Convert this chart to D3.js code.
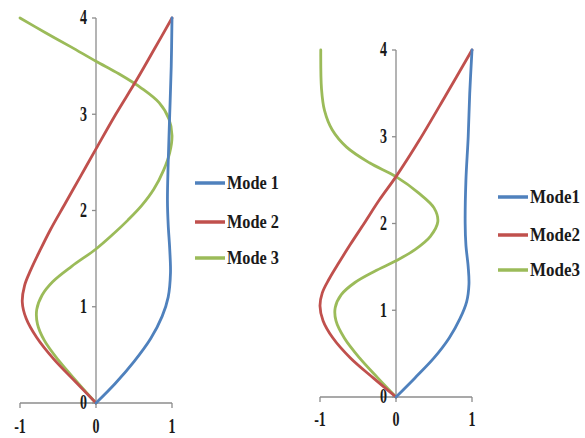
<!DOCTYPE html>
<html lang="en">
<head>
<meta charset="UTF-8">
<title>Mode shapes</title>
<style>
  body, html { margin: 0; background: #fff; overflow: hidden; }
  .axis-line { stroke: #8c8c8c; stroke-width: 1.3; fill: none; }
  .mode { fill: none; stroke-width: 2.8; stroke-linecap: round; stroke-linejoin: round; }
  .lbl { font-family: "Liberation Serif", serif; font-weight: bold; fill: #1a1a1a; }
</style>
</head>
<body>
<div id="chart"></div>
<script src="https://d3js.org/d3.v7.min.js"></script>
<script>
// each point is [x displacement, height]
const leftMode1 = [[0,0],[0.25,0.2],[0.5,0.43],[0.72,0.67],[0.87,0.9],[0.95,1.1],[0.98,1.35],[0.97,1.6],[0.95,1.85],[0.94,2.1],[0.95,2.5],[0.97,3],[0.99,3.5],[1,4]];
const leftMode2 = [[0,0],[-0.27,0.22],[-0.55,0.45],[-0.78,0.68],[-0.92,0.88],[-0.97,1.05],[-0.94,1.22],[-0.86,1.38],[-0.74,1.58],[-0.6,1.8],[-0.4,2.08],[-0.2,2.36],[0,2.64],[0.26,3.0],[0.53,3.35],[0.77,3.68],[1,4]];
const leftMode3 = [[0,0],[-0.25,0.22],[-0.5,0.45],[-0.68,0.65],[-0.77,0.82],[-0.78,0.97],[-0.71,1.12],[-0.57,1.26],[-0.32,1.42],[0,1.6],[0.22,1.75],[0.42,1.9],[0.6,2.05],[0.76,2.22],[0.89,2.42],[0.97,2.6],[1.0,2.78],[0.96,2.95],[0.83,3.12],[0.6,3.27],[0.3,3.42],[0,3.55],[-0.33,3.7],[-0.67,3.85],[-1,4]];

const rightMode1 = [[0,0],[0.25,0.22],[0.5,0.45],[0.7,0.68],[0.84,0.9],[0.93,1.1],[0.96,1.3],[0.95,1.5],[0.92,1.75],[0.91,2.0],[0.92,2.5],[0.95,3.0],[0.97,3.5],[1,4]];
const rightMode2 = [[0,0],[-0.3,0.22],[-0.6,0.45],[-0.83,0.68],[-0.96,0.88],[-1,1.05],[-0.97,1.2],[-0.88,1.36],[-0.75,1.55],[-0.6,1.76],[-0.42,2.0],[-0.22,2.27],[0,2.54],[0.3,2.95],[0.65,3.47],[1,4]];
const rightMode3 = [[0,0],[-0.24,0.22],[-0.48,0.45],[-0.68,0.68],[-0.79,0.88],[-0.8,1.03],[-0.72,1.18],[-0.54,1.32],[-0.28,1.45],[0,1.57],[0.25,1.7],[0.45,1.85],[0.55,2.02],[0.5,2.18],[0.3,2.35],[0,2.54],[-0.35,2.7],[-0.65,2.88],[-0.84,3.08],[-0.94,3.3],[-0.98,3.55],[-0.99,4]];

const modeColors = ["#4f81bd", "#c0504d", "#9bbb59"];
const leftNames = ["Mode 1", "Mode 2", "Mode 3"];
const rightNames = ["Mode1", "Mode2", "Mode3"];
const xTicks = [-1, 0, 1];
const yTicks = [0, 1, 2, 3, 4];

const svg = d3.select("#chart").append("svg")
  .attr("width", 585).attr("height", 438);

function label(g, x, y, txt, anchor, size, squeeze) {
  g.append("text")
    .attr("class", "lbl")
    .attr("transform", `translate(${x},${y}) scale(${squeeze},1)`)
    .attr("text-anchor", anchor)
    .attr("dominant-baseline", "central")
    .attr("font-size", size)
    .text(txt);
}

function drawPanel(cfg) {
  const g = svg.append("g");
  const x = d3.scaleLinear().domain([-1, 1]).range(cfg.xr);
  const y = d3.scaleLinear().domain([0, 4]).range(cfg.yr);

  // axes
  g.append("line").attr("class", "axis-line")
    .attr("x1", x(-1)).attr("x2", x(1)).attr("y1", y(0)).attr("y2", y(0));
  g.append("line").attr("class", "axis-line")
    .attr("x1", x(0)).attr("x2", x(0)).attr("y1", y(0)).attr("y2", y(4));
  xTicks.forEach(t => {
    g.append("line").attr("class", "axis-line")
      .attr("x1", x(t)).attr("x2", x(t)).attr("y1", y(0)).attr("y2", y(0) + 5);
    label(g, x(t), cfg.xLabelY, t, "middle", 20, 0.7);
  });
  yTicks.forEach(t => {
    g.append("line").attr("class", "axis-line")
      .attr("x1", x(0) - 4).attr("x2", x(0)).attr("y1", y(t)).attr("y2", y(t));
    label(g, x(0) - 9, y(t), t, "end", 20, 0.7);
  });

  const line = d3.line()
    .x(d => x(d[0])).y(d => y(d[1]))
    .curve(d3.curveCatmullRom.alpha(0.5));

  // mode 3 first so modes 1 and 2 sit on top
  [2, 1, 0].forEach(i => {
    g.append("path").attr("class", "mode")
      .attr("stroke", modeColors[i])
      .attr("d", line(cfg.data[i]));
  });

  // legend
  cfg.names.forEach((n, i) => {
    const ly = cfg.legY[i];
    g.append("line")
      .attr("x1", cfg.legX).attr("x2", cfg.legX + 30)
      .attr("y1", ly).attr("y2", ly)
      .attr("stroke", modeColors[i]).attr("stroke-width", 3.5);
    g.append("text")
      .attr("class", "lbl")
      .attr("x", cfg.legX + 32).attr("y", ly)
      .attr("dominant-baseline", "central")
      .attr("font-size", 18)
      .attr("textLength", cfg.legW)
      .attr("lengthAdjust", "spacingAndGlyphs")
      .text(n);
  });
}

drawPanel({
  xr: [20, 172], yr: [403, 18], xLabelY: 427,
  data: [leftMode1, leftMode2, leftMode3],
  names: leftNames, legX: 195, legY: [183, 222, 258], legW: 52
});

drawPanel({
  xr: [320, 472], yr: [397, 50], xLabelY: 420,
  data: [rightMode1, rightMode2, rightMode3],
  names: rightNames, legX: 498, legY: [197, 235, 270], legW: 50
});
</script>
</body>
</html>
